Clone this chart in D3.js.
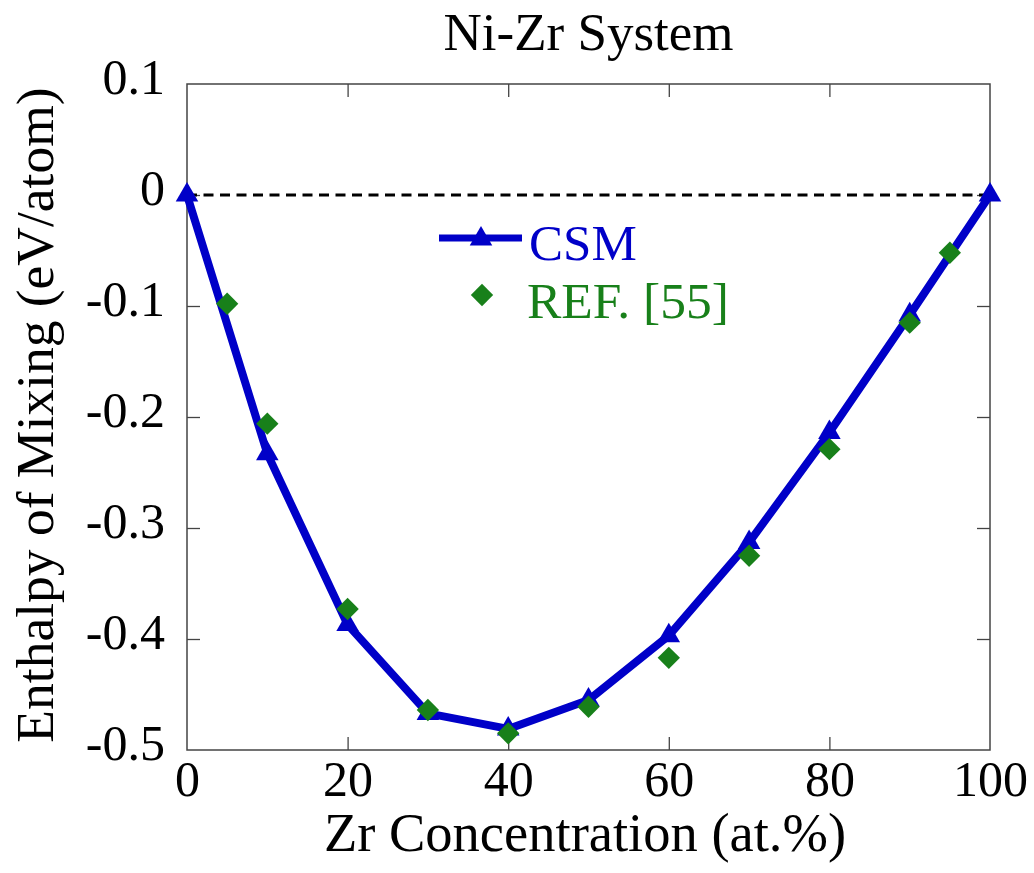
<!DOCTYPE html>
<html>
<head>
<meta charset="utf-8">
<script src="https://cdn.jsdelivr.net/npm/d3@7"></script>
<style>
  html, body { margin: 0; padding: 0; background: #fff; }
  svg { display: block; font-family: "Liberation Serif", "Times New Roman", serif; }
</style>
</head>
<body>
<svg id="chart" width="1034" height="873"></svg>
<script>
// ---- data ----
const csmX = [0, 10, 20, 30, 40, 50, 60, 70, 80, 90, 100];
const csmY = [0, -0.233, -0.387, -0.467, -0.481, -0.455, -0.397, -0.313, -0.214, -0.108, 0];
const refX = [5, 10, 20, 30, 40, 50, 60, 70, 80, 90, 95];
const refY = [-0.098, -0.206, -0.373, -0.464, -0.485, -0.461, -0.417, -0.325, -0.229, -0.115, -0.052];
const xTicks = [0, 20, 40, 60, 80, 100];
const yTicks = [0.1, 0, -0.1, -0.2, -0.3, -0.4, -0.5];
const title = "Ni-Zr System";
const xLabel = "Zr Concentration (at.%)";
const yLabel = "Enthalpy of Mixing (eV/atom)";
const seriesNames = ["CSM", "REF. [55]"];

// ---- layout ----
const svg = d3.select("#chart");
const L = 187, R = 990, T = 84, B = 750;
const blue = "#0000c8", green = "#18801a";
const x = d3.scaleLinear().domain([0, 100]).range([L, R]);
const y = d3.scaleLinear().domain([-0.5, 0.1]).range([B, T]);
const fmtY = d => d === 0 ? "0" : d.toFixed(1);

// frame
svg.append("rect").attr("x", L).attr("y", T).attr("width", R - L).attr("height", B - T)
  .attr("fill", "none").attr("stroke", "#444").attr("stroke-width", 1.5);

// axes
const gx = svg.append("g").attr("transform", `translate(0,${B})`)
  .call(d3.axisBottom(x).tickValues(xTicks).tickSizeInner(-13).tickSizeOuter(0).tickPadding(10));
const gy = svg.append("g").attr("transform", `translate(${L},0)`)
  .call(d3.axisLeft(y).tickValues(yTicks).tickFormat(fmtY).tickSizeInner(-13).tickSizeOuter(0).tickPadding(22));
const gt = svg.append("g").attr("transform", `translate(0,${T})`)
  .call(d3.axisTop(x).tickValues(xTicks).tickSizeInner(-13).tickSizeOuter(0).tickFormat(""));
const gr = svg.append("g").attr("transform", `translate(${R},0)`)
  .call(d3.axisRight(y).tickValues(yTicks).tickSizeInner(-13).tickSizeOuter(0).tickFormat(""));
[gx, gy, gt, gr].forEach(g => {
  g.select(".domain").remove();
  g.selectAll(".tick line").attr("stroke", "#444").attr("stroke-width", 1.3);
  g.selectAll("text").attr("font-family", "Liberation Serif, Times New Roman, serif")
    .attr("font-size", 50).attr("fill", "#000");
});
gy.selectAll(".tick text").attr("dy", "0.18em");
// end ticks coincide with the frame
gx.selectAll(".tick line").filter(d => d === 0 || d === 100).remove();
gt.selectAll(".tick line").filter(d => d === 0 || d === 100).remove();
gy.selectAll(".tick line").filter(d => d === 0.1 || d === -0.5).remove();
gr.selectAll(".tick line").filter(d => d === 0.1 || d === -0.5).remove();

// zero dashed line
svg.append("line").attr("x1", x(0)).attr("x2", x(100)).attr("y1", y(0)).attr("y2", y(0))
  .attr("stroke", "#000").attr("stroke-width", 3).attr("stroke-dasharray", "10,6.5");

// CSM line
const csm = csmX.map((v, i) => [v, csmY[i]]);
svg.append("path").datum(csm)
  .attr("d", d3.line().x(d => x(d[0])).y(d => y(d[1])))
  .attr("fill", "none").attr("stroke", blue).attr("stroke-width", 8).attr("stroke-linejoin", "round");
const tri = d3.symbol().type(d3.symbolTriangle).size(220);
svg.append("g").selectAll("path").data(csm).join("path")
  .attr("d", tri).attr("transform", d => `translate(${x(d[0])},${y(d[1])})`).attr("fill", blue);

// REF diamonds
const ref = refX.map((v, i) => [v, refY[i]]);
const dia = d3.symbol().type(d3.symbolSquare).size(250);
svg.append("g").selectAll("path").data(ref).join("path")
  .attr("d", dia).attr("transform", d => `translate(${x(d[0])},${y(d[1])}) rotate(45)`).attr("fill", green);

// legend
svg.append("line").attr("x1", 439).attr("x2", 522).attr("y1", 238).attr("y2", 238)
  .attr("stroke", blue).attr("stroke-width", 7);
svg.append("path").attr("d", tri).attr("transform", "translate(481,239)").attr("fill", blue);
svg.append("text").attr("x", 529).attr("y", 260).attr("font-size", 51).attr("fill", blue).text(seriesNames[0]);
svg.append("path").attr("d", dia).attr("transform", "translate(482,295) rotate(45)").attr("fill", green);
svg.append("text").attr("x", 527).attr("y", 318).attr("font-size", 51.5).attr("fill", green).text(seriesNames[1]);

// titles
svg.append("text").attr("x", 588.5).attr("y", 50).attr("text-anchor", "middle")
  .attr("font-size", 53).attr("fill", "#000").text(title);
svg.append("text").attr("x", 585).attr("y", 851).attr("text-anchor", "middle")
  .attr("font-size", 54.5).attr("fill", "#000").text(xLabel);
svg.append("text").attr("transform", "translate(53,415) rotate(-90)").attr("text-anchor", "middle")
  .attr("font-size", 53.5).attr("fill", "#000").text(yLabel);
</script>
</body>
</html>
